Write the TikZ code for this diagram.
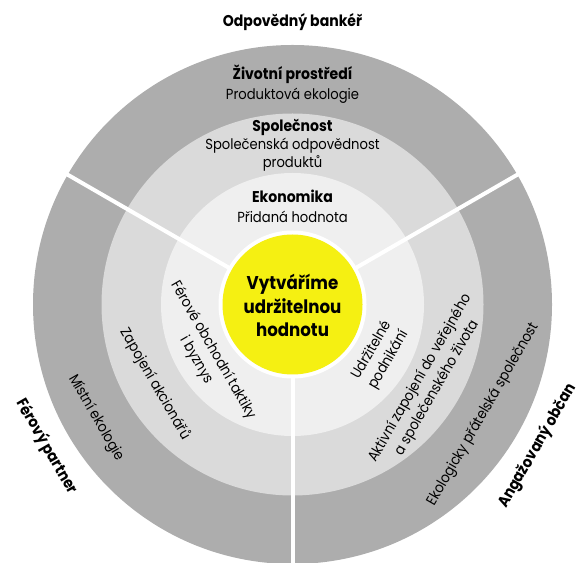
\documentclass[tikz,border=0pt]{standalone}
\usepackage{fontspec}
\setmainfont{Poppins}[FakeStretch=0.9]
\usetikzlibrary{calc}
\definecolor{ringout}{RGB}{173,173,173}
\definecolor{ringmid}{RGB}{218,218,218}
\definecolor{ringin}{RGB}{239,239,239}
\definecolor{core}{RGB}{245,240,18}
\tikzset{
  lbl/.style={align=center, inner sep=0pt, text=black, font=\fontsize{14.6}{19.5}\selectfont},
  head/.style={align=center, inner sep=0pt, text=black, font=\bfseries\fontsize{15.6}{19}\selectfont},
  divider/.style={draw=white, line width=4pt},
  coretext/.style={align=center, inner sep=0pt, text=black, font=\bfseries\fontsize{18.5}{23.5}\selectfont}
}
\begin{document}
\begin{tikzpicture}[x=1pt,y=1pt]
\useasboundingbox (0,0) rectangle (580,562);
\coordinate (c) at (292.5,257.5);
% rings
\fill[ringout] (c) circle[radius=259.5];
\fill[ringmid] (c) circle[radius=191];
\fill[ringin] (c) circle[radius=131.5];
% dividers
\coordinate (e1) at ($(c)+(150:262)$);
\coordinate (e2) at ($(c)+(30:262)$);
\coordinate (e3) at ($(c)+(270:262)$);
\draw[divider] (c) -- (e1);
\draw[divider] (c) -- (e2);
\draw[divider] (c) -- (e3);
% core
\fill[white] (c) circle[radius=74];
\node[circle, fill=core, minimum size=140pt, inner sep=0pt] (core) at (c) {};
\node[coretext] (coret) at ($(c)+(0,-1)$) {Vytváříme\\udržitelnou\\hodnotu};
% top sector
\node[head] (tout) at ($(c)+(90:282.5)$) {Odpovědný bankéř};
\node[lbl] (t3) at ($(c)+(90:220.5)$) {\textbf{\fontsize{15.6}{19}\selectfont Životní prostředí}\\Produktová ekologie};
\node[lbl, font=\fontsize{14.6}{18}\selectfont] (t2) at ($(c)+(90:159.5)$) {\textbf{\fontsize{15.6}{19}\selectfont Společnost}\\Společenská odpovědnost\\produktů};
\node[lbl, font=\fontsize{14.6}{20}\selectfont] (t1) at ($(c)+(90:98.5)$) {\textbf{\fontsize{15.6}{19}\selectfont Ekonomika}\\Přidaná hodnota};
% left sector
\node[head, rotate=-60] (lout) at ($(c)+(210:284)$) {Férový partner};
\node[lbl, rotate=-60] (l3) at ($(c)+(210:227)$) {Místní ekologie};
\node[lbl, rotate=-60] (l2) at ($(c)+(210:159)$) {Zapojení akcionářů};
\node[lbl, rotate=-60] (l1) at ($(c)+(210:101.5)$) {Férové obchodní taktiky\\i byznys};
% right sector
\node[head, rotate=60] (rout) at ($(c)+(330:283)$) {Angažovaný občan};
\node[lbl, rotate=60] (r3) at ($(c)+(330:220)$) {Ekologicky přátelská společnost};
\node[lbl, rotate=60] (r2) at ($(c)+(330:157)$) {Aktivní zapojení do veřejného\\a společenského života};
\node[lbl, rotate=60] (r1) at ($(c)+(330:101)$) {Udržitelné\\podnikání};
\end{tikzpicture}
\end{document}
